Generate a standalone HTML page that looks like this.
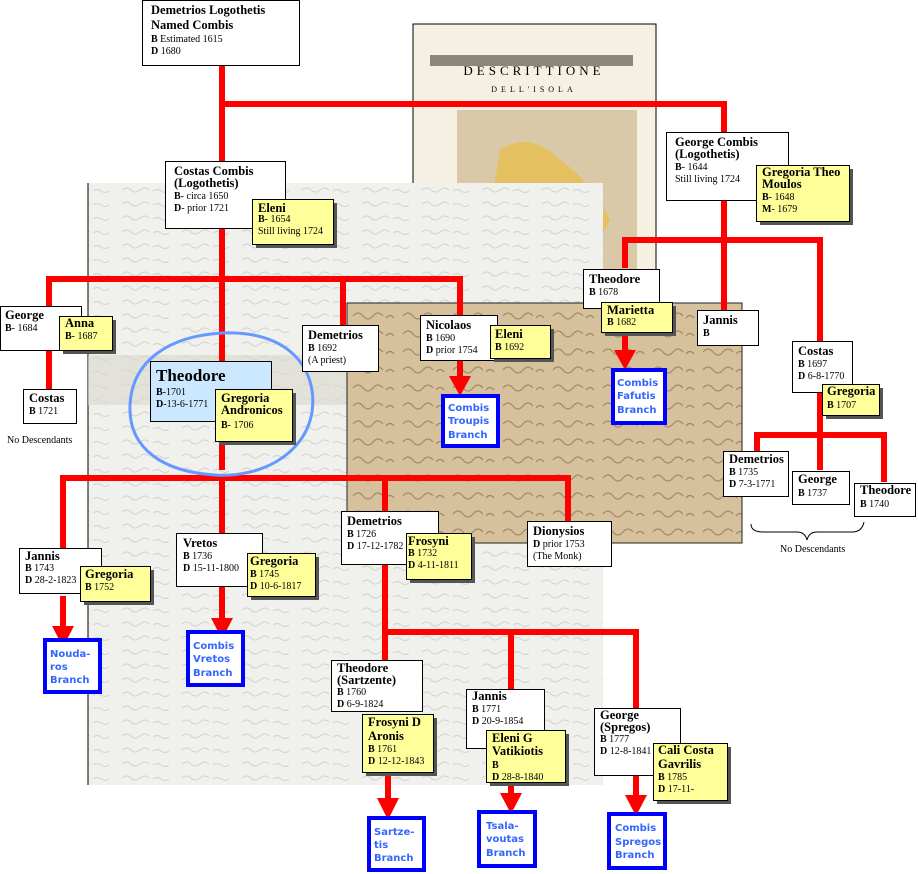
<!DOCTYPE html>
<html><head><meta charset="utf-8"><style>
body{margin:0;background:#fff;}
svg{display:block;}
.t{font-family:"Liberation Serif",serif;font-weight:bold;font-size:12.5px;fill:#000;}
.b{font-family:"Liberation Serif",serif;font-size:10px;fill:#000;}
.b tspan.k{font-weight:bold;}
.br{font-family:"DejaVu Sans","Liberation Sans",sans-serif;font-size:10px;font-weight:bold;fill:#3366ff;}
</style></head><body>
<svg width="918" height="874" viewBox="0 0 918 874" xmlns="http://www.w3.org/2000/svg">
<defs>
<pattern id="ms" width="60" height="14" patternUnits="userSpaceOnUse">
<rect width="60" height="14" fill="#f0f0ec"/>
<path d="M2 8 q5 -4 9 0 t9 0 t9 0 M33 9 q4 -3 8 0 t8 0" stroke="#d2d2cc" stroke-width="1" fill="none"/>
</pattern>
<pattern id="ms2" width="50" height="18" patternUnits="userSpaceOnUse">
<rect width="50" height="18" fill="#d6c19c"/>
<path d="M3 10 q5 -6 10 0 t10 0 t10 0 M36 12 q4 -5 8 0" stroke="#a08a6a" stroke-width="1.2" fill="none"/>
</pattern>
</defs>
<!-- map -->
<rect x="413" y="24" width="243" height="280" fill="#f6f0e2" stroke="#000"/>
<text x="534" y="75" text-anchor="middle" font-family="Liberation Serif" font-size="13" letter-spacing="4">DESCRITTIONE</text>
<text x="534" y="92" text-anchor="middle" font-family="Liberation Serif" font-size="8" letter-spacing="4">DELL'ISOLA</text>
<rect x="430" y="55" width="203" height="11" fill="#8d877a"/>
<rect x="457" y="110" width="180" height="190" fill="#d9c9a8"/>
<path d="M500 150 q30 -20 60 10 q30 20 50 60 q-20 40 -70 60 q-40 -20 -50 -70 z" fill="#e4c060"/>
<!-- grey manuscript -->
<rect x="88" y="183" width="515" height="602" fill="url(#ms)"/>
<line x1="88" y1="183" x2="88" y2="785" stroke="#000"/>
<rect x="88" y="355" width="260" height="50" fill="#d8d8d0" opacity="0.6"/>
<!-- brown manuscript -->
<rect x="347" y="303" width="395" height="240" fill="url(#ms2)" stroke="#222"/>

<!-- red lines -->
<g stroke="#ff0000" stroke-width="6" fill="none">
<path d="M222 65 V470"/>
<path d="M222 104 H724 V132"/>
<path d="M49 390 V279 H460 V315"/>
<path d="M343 279 V325"/>
<path d="M460 360 V378"/>
<path d="M724 200 V310"/>
<path d="M625 268 V240 H820 V341"/>
<path d="M625 332 V352"/>
<path d="M820 392 V435"/>
<path d="M757 451 V435 H884 V482"/>
<path d="M820 435 V470"/>
<path d="M63 548 V478 H568 V521"/>
<path d="M63 596 V627"/>
<path d="M222 478 V533"/>
<path d="M222 585 V620"/>
<path d="M385 478 V660"/>
<path d="M385 632 H636 V708"/>
<path d="M511 632 V689"/>
<path d="M388 772 V800"/>
<path d="M511 782 V795"/>
<path d="M636 775 V797"/>
</g>
<g fill="#ff0000">
<path d="M449 376 h22 l-11 20 z"/>
<path d="M614 350 h22 l-11 20 z"/>
<path d="M52 626 h22 l-11 21 z"/>
<path d="M211 618 h22 l-11 21 z"/>
<path d="M377 798 h22 l-11 22 z"/>
<path d="M500 793 h22 l-11 21 z"/>
<path d="M625 795 h22 l-11 21 z"/>
</g>

<!-- ellipse -->
<path d="M222 333 C290 330 318 370 312 412 C305 455 260 478 215 475 C165 472 128 450 130 405 C132 360 170 336 222 333 Z" fill="none" stroke="#6699ff" stroke-width="3"/>

<!-- white boxes -->
<g fill="#fff" stroke="#000" stroke-width="1">
<rect x="142.5" y="0.5" width="157" height="65"/>
<rect x="165.5" y="161.5" width="120" height="67"/>
<rect x="0.5" y="306.5" width="81" height="44"/>
<rect x="23.5" y="389.5" width="53" height="34"/>
<rect x="302.5" y="325.5" width="76" height="46"/>
<rect x="420.5" y="315.5" width="77" height="45"/>
<rect x="666.5" y="132.5" width="122" height="68"/>
<rect x="583.5" y="269.5" width="76" height="39"/>
<rect x="697.5" y="310.5" width="61" height="35"/>
<rect x="792.5" y="341.5" width="60" height="51"/>
<rect x="723.5" y="451.5" width="65" height="45"/>
<rect x="792.5" y="471.5" width="57" height="33"/>
<rect x="854.5" y="483.5" width="61" height="33"/>
<rect x="19.5" y="548.5" width="82" height="45"/>
<rect x="176.5" y="533.5" width="86" height="53"/>
<rect x="341.5" y="511.5" width="97" height="53"/>
<rect x="527.5" y="521.5" width="84" height="45"/>
<rect x="331.5" y="660.5" width="91" height="51"/>
<rect x="466.5" y="689.5" width="78" height="59"/>
<rect x="594.5" y="708.5" width="86" height="67"/>
</g>
<rect x="150.5" y="361.5" width="121" height="60" fill="#cce8ff" stroke="#000"/>

<!-- yellow boxes with shadow -->
<g fill="#555">
<rect x="256" y="203" width="81" height="45"/>
<rect x="63" y="320" width="53" height="34"/>
<rect x="219" y="393" width="77" height="52"/>
<rect x="494" y="329" width="60" height="33"/>
<rect x="760" y="169" width="93" height="56"/>
<rect x="605" y="306" width="71" height="30"/>
<rect x="826" y="388" width="57" height="31"/>
<rect x="84" y="570" width="70" height="35"/>
<rect x="251" y="557" width="68" height="43"/>
<rect x="410" y="537" width="65" height="46"/>
<rect x="366" y="718" width="71" height="58"/>
<rect x="490" y="734" width="79" height="52"/>
<rect x="657" y="747" width="74" height="57"/>
</g>
<g fill="#ffff99" stroke="#000" stroke-width="1">
<rect x="252.5" y="199.5" width="81" height="45"/>
<rect x="59.5" y="316.5" width="53" height="34"/>
<rect x="215.5" y="389.5" width="77" height="52"/>
<rect x="490.5" y="325.5" width="60" height="33"/>
<rect x="756.5" y="165.5" width="93" height="56"/>
<rect x="601.5" y="302.5" width="71" height="30"/>
<rect x="822.5" y="384.5" width="57" height="31"/>
<rect x="80.5" y="566.5" width="70" height="35"/>
<rect x="247.5" y="553.5" width="68" height="43"/>
<rect x="406.5" y="533.5" width="65" height="46"/>
<rect x="362.5" y="714.5" width="71" height="58"/>
<rect x="486.5" y="730.5" width="79" height="52"/>
<rect x="653.5" y="743.5" width="74" height="57"/>
</g>

<!-- branch boxes -->
<g fill="#fff" stroke="#0000ff" stroke-width="4">
<rect x="443" y="396" width="55" height="50"/>
<rect x="613" y="370" width="52" height="53"/>
<rect x="45" y="640" width="55" height="52"/>
<rect x="188" y="632" width="55" height="53"/>
<rect x="369" y="818" width="55" height="52"/>
<rect x="479" y="812" width="56" height="54"/>
<rect x="609" y="814" width="56" height="54"/>
</g>
<g class="br">
<text x="448" y="411">Combis</text><text x="448" y="424">Troupis</text><text x="448" y="438">Branch</text>
<text x="617" y="386">Combis</text><text x="617" y="399">Fafutis</text><text x="617" y="413">Branch</text>
<text x="50" y="657">Nouda-</text><text x="50" y="670">ros</text><text x="50" y="683">Branch</text>
<text x="193" y="649">Combis</text><text x="193" y="662">Vretos</text><text x="193" y="676">Branch</text>
<text x="374" y="835">Sartze-</text><text x="374" y="848">tis</text><text x="374" y="861">Branch</text>
<text x="486" y="829">Tsala-</text><text x="486" y="842">voutas</text><text x="486" y="856">Branch</text>
<text x="615" y="831">Combis</text><text x="615" y="845">Spregos</text><text x="615" y="858">Branch</text>
</g>

<!-- texts -->
<text class="t" x="151" y="14">Demetrios Logothetis</text>
<text class="t" x="151" y="29">Named Combis</text>
<text class="b" x="151" y="42"><tspan class="k">B</tspan> Estimated 1615</text>
<text class="b" x="151" y="54"><tspan class="k">D</tspan> 1680</text>

<text class="t" x="174" y="175">Costas Combis</text>
<text class="t" x="174" y="187">(Logothetis)</text>
<text class="b" x="174" y="199"><tspan class="k">B</tspan>- circa 1650</text>
<text class="b" x="174" y="211"><tspan class="k">D</tspan>- prior 1721</text>
<text class="t" x="258" y="212">Eleni</text>
<text class="b" x="258" y="222"><tspan class="k">B</tspan>- 1654</text>
<text class="b" x="258" y="234">Still living 1724</text>

<text class="t" x="5" y="319">George</text>
<text class="b" x="5" y="331"><tspan class="k">B</tspan>- 1684</text>
<text class="t" x="65" y="327">Anna</text>
<text class="b" x="65" y="339"><tspan class="k">B</tspan>- 1687</text>
<text class="t" x="29" y="402" font-size="11">Costas</text>
<text class="b" x="29" y="414"><tspan class="k">B</tspan> 1721</text>
<text class="b" x="7" y="443">No Descendants</text>

<text x="156" y="381" font-family="Liberation Serif" font-weight="bold" font-size="17">Theodore</text>
<text class="b" x="156" y="395"><tspan class="k">B</tspan>-1701</text>
<text class="b" x="156" y="407"><tspan class="k">D</tspan>-13-6-1771</text>
<text class="t" x="221" y="402" font-size="11.5">Gregoria</text>
<text class="t" x="221" y="414" font-size="11.5">Andronicos</text>
<text class="b" x="221" y="428"><tspan class="k">B</tspan>- 1706</text>

<text class="t" x="308" y="339">Demetrios</text>
<text class="b" x="308" y="351"><tspan class="k">B</tspan> 1692</text>
<text class="b" x="308" y="363">(A priest)</text>

<text class="t" x="426" y="329">Nicolaos</text>
<text class="b" x="426" y="341"><tspan class="k">B</tspan> 1690</text>
<text class="b" x="426" y="353"><tspan class="k">D</tspan> prior 1754</text>
<text class="t" x="495" y="338">Eleni</text>
<text class="b" x="495" y="350"><tspan class="k">B</tspan> 1692</text>

<text class="t" x="675" y="146">George Combis</text>
<text class="t" x="675" y="158">(Logothetis)</text>
<text class="b" x="675" y="170"><tspan class="k">B</tspan>- 1644</text>
<text class="b" x="675" y="182">Still living 1724</text>
<text class="t" x="762" y="176" font-size="11">Gregoria Theo</text>
<text class="t" x="762" y="188" font-size="11">Moulos</text>
<text class="b" x="762" y="200"><tspan class="k">B</tspan>- 1648</text>
<text class="b" x="762" y="212"><tspan class="k">M</tspan>- 1679</text>

<text class="t" x="589" y="283">Theodore</text>
<text class="b" x="589" y="295"><tspan class="k">B</tspan> 1678</text>
<text class="t" x="607" y="314">Marietta</text>
<text class="b" x="607" y="325"><tspan class="k">B</tspan> 1682</text>
<text class="t" x="703" y="324">Jannis</text>
<text class="b" x="703" y="336"><tspan class="k">B</tspan></text>

<text class="t" x="798" y="355">Costas</text>
<text class="b" x="798" y="367"><tspan class="k">B</tspan> 1697</text>
<text class="b" x="798" y="379"><tspan class="k">D</tspan> 6-8-1770</text>
<text class="t" x="827" y="395" font-size="11">Gregoria</text>
<text class="b" x="827" y="408"><tspan class="k">B</tspan> 1707</text>

<text class="t" x="729" y="463" font-size="10.5">Demetrios</text>
<text class="b" x="729" y="475"><tspan class="k">B</tspan> 1735</text>
<text class="b" x="729" y="487"><tspan class="k">D</tspan> 7-3-1771</text>
<text class="t" x="798" y="483" font-size="10.5">George</text>
<text class="b" x="798" y="496"><tspan class="k">B</tspan> 1737</text>
<text class="t" x="860" y="494" font-size="10.5">Theodore</text>
<text class="b" x="860" y="507"><tspan class="k">B</tspan> 1740</text>
<path d="M751 524 q0 8 12 8 h34 q8 0 10 8 q2 -8 10 -8 h35 q10 0 12 -10" fill="none" stroke="#000" stroke-width="1"/>
<text class="b" x="780" y="552">No Descendants</text>

<text class="t" x="25" y="560">Jannis</text>
<text class="b" x="25" y="571"><tspan class="k">B</tspan> 1743</text>
<text class="b" x="25" y="583"><tspan class="k">D</tspan> 28-2-1823</text>
<text class="t" x="85" y="578">Gregoria</text>
<text class="b" x="85" y="590"><tspan class="k">B</tspan> 1752</text>

<text class="t" x="183" y="547">Vretos</text>
<text class="b" x="183" y="559"><tspan class="k">B</tspan> 1736</text>
<text class="b" x="183" y="571"><tspan class="k">D</tspan> 15-11-1800</text>
<text class="t" x="250" y="565">Gregoria</text>
<text class="b" x="250" y="577"><tspan class="k">B</tspan> 1745</text>
<text class="b" x="250" y="589"><tspan class="k">D</tspan> 10-6-1817</text>

<text class="t" x="347" y="525">Demetrios</text>
<text class="b" x="347" y="537"><tspan class="k">B</tspan> 1726</text>
<text class="b" x="347" y="549"><tspan class="k">D</tspan> 17-12-1782</text>
<text class="t" x="408" y="545">Frosyni</text>
<text class="b" x="408" y="556"><tspan class="k">B</tspan> 1732</text>
<text class="b" x="408" y="568"><tspan class="k">D</tspan> 4-11-1811</text>

<text class="t" x="533" y="535">Dionysios</text>
<text class="b" x="533" y="547"><tspan class="k">D</tspan> prior 1753</text>
<text class="b" x="533" y="559">(The Monk)</text>

<text class="t" x="337" y="672">Theodore</text>
<text class="t" x="337" y="684">(Sartzente)</text>
<text class="b" x="337" y="695"><tspan class="k">B</tspan> 1760</text>
<text class="b" x="337" y="707"><tspan class="k">D</tspan> 6-9-1824</text>
<text class="t" x="368" y="726" font-size="11">Frosyni  D</text>
<text class="t" x="368" y="740" font-size="11">Aronis</text>
<text class="b" x="368" y="752"><tspan class="k">B</tspan> 1761</text>
<text class="b" x="368" y="764"><tspan class="k">D</tspan> 12-12-1843</text>

<text class="t" x="472" y="700">Jannis</text>
<text class="b" x="472" y="712"><tspan class="k">B</tspan> 1771</text>
<text class="b" x="472" y="724"><tspan class="k">D</tspan> 20-9-1854</text>
<text class="t" x="492" y="742" font-size="11">Eleni G</text>
<text class="t" x="492" y="755" font-size="11">Vatikiotis</text>
<text class="b" x="492" y="768"><tspan class="k">B</tspan></text>
<text class="b" x="492" y="780"><tspan class="k">D</tspan> 28-8-1840</text>

<text class="t" x="600" y="719">George</text>
<text class="t" x="600" y="731">(Spregos)</text>
<text class="b" x="600" y="742"><tspan class="k">B</tspan> 1777</text>
<text class="b" x="600" y="754"><tspan class="k">D</tspan> 12-8-1841</text>
<text class="t" x="658" y="754" font-size="11">Cali Costa</text>
<text class="t" x="658" y="768" font-size="11">Gavrilis</text>
<text class="b" x="658" y="780"><tspan class="k">B</tspan> 1785</text>
<text class="b" x="658" y="792"><tspan class="k">D</tspan> 17-11-</text>
</svg>
</body></html>
